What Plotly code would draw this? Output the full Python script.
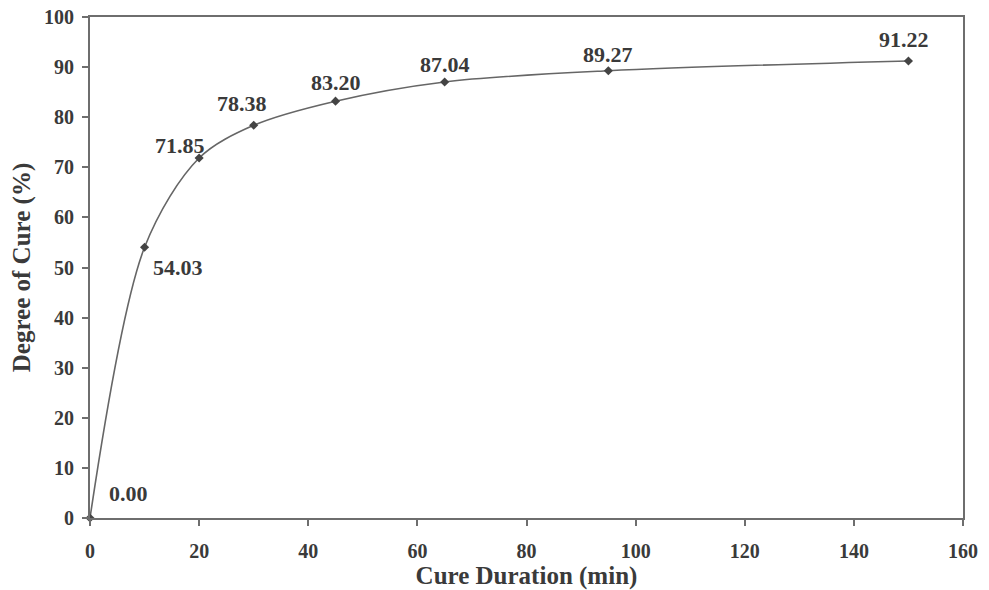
import plotly.graph_objects as go

cure_duration = [0, 10, 20, 30, 45, 65, 95, 150]
degree_of_cure = [0.00, 54.03, 71.85, 78.38, 83.20, 87.04, 89.27, 91.22]
label_shift_x = [38, 33, -19, -12, 0, 0, 0, -4]
label_shift_y = [25, -20, 13, 22, 19, 17, 16, 21]

x_ticks = list(range(0, 161, 20))
y_ticks = list(range(0, 101, 10))

font_family = "Liberation Serif"
axis_color = "#6e6e6e"
text_color = "#3a3a3a"

fig = go.Figure()
fig.add_trace(go.Scatter(
    x=cure_duration, y=degree_of_cure,
    mode="lines+markers",
    line=dict(color="#666666", width=1.6, shape="spline", smoothing=0.9),
    marker=dict(symbol="diamond", size=7, color="#444444"),
    hoverinfo="x+y", showlegend=False, cliponaxis=False,
))

for x, y, dx, dy in zip(cure_duration, degree_of_cure, label_shift_x, label_shift_y):
    fig.add_annotation(
        x=x, y=y, text=f"<b>{y:.2f}</b>", showarrow=False,
        xshift=dx, yshift=dy,
        font=dict(family=font_family, size=22, color=text_color),
    )

fig.update_layout(
    width=989, height=590,
    margin=dict(l=90, r=26, t=17, b=72, autoexpand=False),
    paper_bgcolor="white", plot_bgcolor="white",
    font=dict(family=font_family, color=text_color),
    xaxis=dict(
        range=[0, 160], tickvals=x_ticks, ticktext=[f"<b>{v}</b>" for v in x_ticks],
        showgrid=False, zeroline=False,
        showline=True, mirror=True, linecolor=axis_color, linewidth=2,
        ticks="outside", ticklen=6, tickcolor=axis_color, tickwidth=1.5,
        ticklabelstandoff=8,
        tickfont=dict(family=font_family, size=20, color=text_color),
        title=dict(text="<b>Cure Duration (min)</b>", standoff=4,
                   font=dict(family=font_family, size=25, color=text_color)),
    ),
    yaxis=dict(
        range=[0, 100], tickvals=y_ticks, ticktext=[f"<b>{v}</b>" for v in y_ticks],
        showgrid=False, zeroline=False,
        showline=True, mirror=True, linecolor=axis_color, linewidth=2,
        ticks="outside", ticklen=6, tickcolor=axis_color, tickwidth=1.5,
        ticklabelstandoff=4,
        tickfont=dict(family=font_family, size=20, color=text_color),
        title=dict(text="<b>Degree of Cure (%)</b>", standoff=6,
                   font=dict(family=font_family, size=25, color=text_color)),
    ),
)

fig.write_html("out.html", config={"displayModeBar": False},
               post_script="document.body.style.margin='0';")
